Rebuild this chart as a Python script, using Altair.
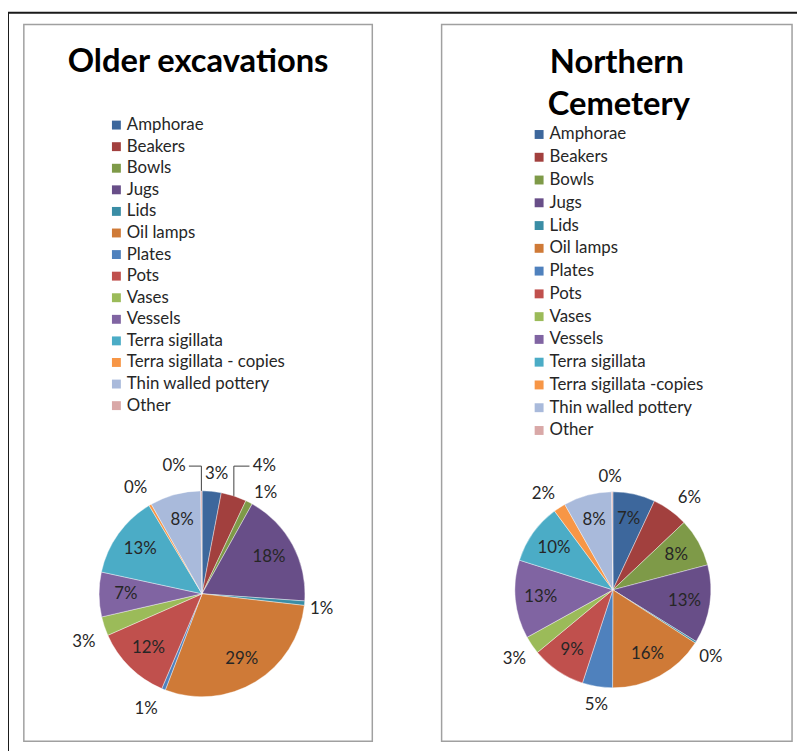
import math
import altair as alt
import pandas as pd

# ---------------- data ----------------
categories_left = ["Amphorae", "Beakers", "Bowls", "Jugs", "Lids", "Oil lamps", "Plates",
                   "Pots", "Vases", "Vessels", "Terra sigillata", "Terra sigillata - copies",
                   "Thin walled pottery", "Other"]
categories_right = ["Amphorae", "Beakers", "Bowls", "Jugs", "Lids", "Oil lamps", "Plates",
                    "Pots", "Vases", "Vessels", "Terra sigillata", "Terra sigillata -copies",
                    "Thin walled pottery", "Other"]
older_values = [3.0, 4.0, 1.1, 18.0, 0.7, 29.0, 0.6, 12.0, 3.0, 7.0, 13.0, 0.4, 8.0, 0.2]
cemetery_values = [7.0, 6.0, 8.0, 13.0, 0.3, 16.0, 5.0, 9.0, 3.0, 13.0, 10.0, 2.0, 8.0, 0.2]
colors = ["#3D679C", "#A2403E", "#7E9A48", "#684E88", "#3A8DA5", "#CF7A37", "#4F81BD",
          "#C0504D", "#9BBB59", "#8064A2", "#4BACC6", "#F79646", "#A9BADB", "#D9A8A7"]
titles = ["Older excavations", ["Northern", "Cemetery"]]

# ---------------- layout ----------------
W, H = 797, 743
FONT = "Lato"
TXT = "#262626"
P1 = dict(cx=196, cy=588, r=104)
P2 = dict(cx=611, cy=584, r=99)
# (angle nudge in degrees, distance factor) for outside labels
nudges_left = {"Amphorae": (1.5, 1.17), "Beakers": (8, 1.38), "Bowls": (5, 1.16),
               "Lids": (2, 1.17), "Plates": (4, 1.24), "Vases": (-4, 1.24),
               "Terra sigillata - copies": (-2, 1.21), "Other": (-12, 1.27)}
nudges_right = {"Other": (-1, 1.15), "Beakers": (4, 1.22), "Lids": (2, 1.21),
                "Plates": (-1, 1.19), "Vases": (-1, 1.23), "Terra sigillata -copies": (-3, 1.21)}
leaders_left = ["Beakers", "Other"]


def pie_frame(cats, vals):
    return pd.DataFrame({"cat": cats, "value": vals, "idx": list(range(len(cats)))})


def label_frame(cats, vals, p, nudges):
    total = sum(vals)
    rows, cum = [], 0.0
    for c, v in zip(cats, vals):
        pct = v / total * 100
        mid = (cum + v / 2) / total * 360
        cum += v
        if round(pct) >= 7:
            ang, d = mid, 0.74 * p["r"]
        else:
            da, f = nudges.get(c, (0, 1.2))
            ang, d = mid + da, f * p["r"]
        a = math.radians(ang)
        m = math.radians(mid)
        rows.append({"cat": c, "label": f"{round(pct)}%",
                     "lx": p["cx"] + d * math.sin(a), "ly": p["cy"] - d * math.cos(a),
                     "ex": p["cx"] + p["r"] * math.sin(m), "ey": p["cy"] - p["r"] * math.cos(m)})
    return pd.DataFrame(rows)


def leader_frame(lab, names):
    rows = []
    for k, n in enumerate(names):
        r = lab[lab.cat == n].iloc[0]
        side = -1 if r.lx > r.ex else 1
        pts = [(r.lx + side * 15, r.ly), (r.ex, r.ly), (r.ex, r.ey)]
        for j, (x, y) in enumerate(pts):
            rows.append({"g": k, "o": j, "x": x, "y": y})
    return pd.DataFrame(rows)


def pie(cats, vals, p, legend_x, legend_y, row_pad):
    return alt.Chart(pie_frame(cats, vals)).mark_arc(
        radius=p["r"], stroke="white", strokeWidth=0.4
    ).encode(
        theta=alt.Theta("value:Q", stack=True),
        order=alt.Order("idx:Q"),
        color=alt.Color("cat:N", sort=cats,
                        scale=alt.Scale(domain=cats, range=colors),
                        legend=alt.Legend(orient="none", legendX=legend_x, legendY=legend_y,
                                          title=None, symbolType="square", symbolSize=81,
                                          symbolStrokeWidth=0, labelFont=FONT, labelFontSize=17,
                                          labelColor=TXT, rowPadding=row_pad, labelOffset=2,
                                          labelLimit=300, padding=0)),
        x=alt.value(p["cx"]),
        y=alt.value(p["cy"]),
    )


def labels(lab):
    return alt.Chart(lab).mark_text(font=FONT, fontSize=17, color=TXT,
                                    align="center", baseline="middle").encode(
        x=alt.X("lx:Q", scale=None), y=alt.Y("ly:Q", scale=None), text="label:N")


lab1 = label_frame(categories_left, older_values, P1, nudges_left)
lab2 = label_frame(categories_right, cemetery_values, P2, nudges_right)
lead1 = leader_frame(lab1, leaders_left)

one = pd.DataFrame({"a": [0]})
frame = alt.Chart(one).mark_rect(fillOpacity=0, stroke="#1a1a1a", strokeWidth=2).encode(
    x=alt.value(0), x2=alt.value(W + 20), y=alt.value(1), y2=alt.value(H + 20))
panel1 = alt.Chart(one).mark_rect(fillOpacity=0, stroke="#a0a0a0", strokeWidth=1.5).encode(
    x=alt.value(16), x2=alt.value(368), y=alt.value(13), y2=alt.value(737))
panel2 = alt.Chart(one).mark_rect(fillOpacity=0, stroke="#a0a0a0", strokeWidth=1.5).encode(
    x=alt.value(438), x2=alt.value(792), y=alt.value(13), y2=alt.value(737))

tstyle = dict(font=FONT, fontSize=33, fontWeight="bold", color="black",
              align="center", baseline="alphabetic")
t1 = alt.Chart(one).mark_text(**tstyle).encode(
    x=alt.value(192), y=alt.value(61), text=alt.value(titles[0]))
t2a = alt.Chart(one).mark_text(**tstyle).encode(
    x=alt.value(615), y=alt.value(62), text=alt.value(titles[1][0]))
t2b = alt.Chart(one).mark_text(**tstyle).encode(
    x=alt.value(617), y=alt.value(104), text=alt.value(titles[1][1]))

leaders = alt.Chart(lead1).mark_line(color="#404040", strokeWidth=1).encode(
    x=alt.X("x:Q", scale=None), y=alt.Y("y:Q", scale=None),
    detail="g:N", order="o:Q")

chart = alt.layer(
    frame, panel1, panel2, t1, t2a, t2b,
    pie(categories_left, older_values, P1, 101, 106, 3.8),
    pie(categories_right, cemetery_values, P2, 528, 115.5, 5.0),
    labels(lab1), labels(lab2), leaders,
).resolve_scale(
    color="independent", theta="independent"
).properties(
    width=W, height=H, autosize=alt.AutoSizeParams(type="none"), padding=0
).configure_view(strokeWidth=0)

chart.save("out.html", embed_options={"renderer": "svg", "actions": False})
